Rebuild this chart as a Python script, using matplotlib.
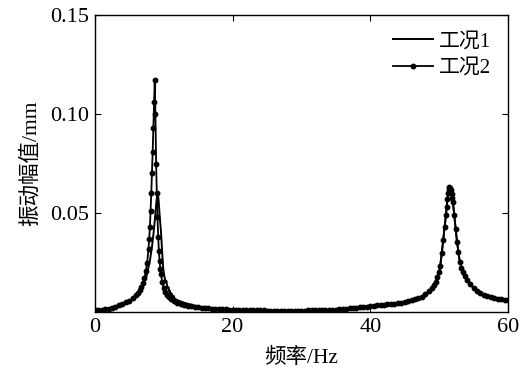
import numpy as np
import matplotlib
matplotlib.use("Agg")
import matplotlib.pyplot as plt

plt.rcParams['font.family'] = ['Liberation Serif', 'Noto Sans CJK SC']

# 工况2 (ligne avec points)
freq2 = [0.0, 0.5, 1.0, 1.5, 2.0, 2.5, 3.0, 3.5, 4.0, 4.5, 5.0, 5.5, 6.0, 6.25, 6.5, 6.75,
         7.0, 7.2, 7.4, 7.6, 7.8, 7.9, 8.0, 8.1, 8.2, 8.3, 8.4, 8.5, 8.6, 8.7, 8.8, 8.9,
         9.0, 9.1, 9.2, 9.3, 9.4, 9.5, 9.6, 9.8, 10.0, 10.25, 10.5, 10.75, 11.0, 11.5,
         12.0, 12.5, 13.0, 13.5, 14.0, 14.5, 15.0, 15.5, 16.0, 16.5, 17.0, 17.5, 18.0,
         18.5, 19.0, 19.5, 20.0, 20.5, 21.0, 21.5, 22.0, 22.5, 23.0, 23.5, 24.0, 24.5,
         25.0, 25.5, 26.0, 26.5, 27.0, 27.5, 28.0, 28.5, 29.0, 29.5, 30.0, 30.5, 31.0,
         31.5, 32.0, 32.5, 33.0, 33.5, 34.0, 34.5, 35.0, 35.5, 36.0, 36.5, 37.0, 37.5,
         38.0, 38.5, 39.0, 39.5, 40.0, 40.5, 41.0, 41.5, 42.0, 42.5, 43.0, 43.5, 44.0,
         44.5, 45.0, 45.5, 46.0, 46.5, 47.0, 47.5, 48.0, 48.5, 49.0, 49.25, 49.5, 49.75,
         50.0, 50.2, 50.4, 50.6, 50.8, 51.0, 51.1, 51.2, 51.3, 51.4, 51.5, 51.6, 51.7,
         51.8, 51.9, 52.0, 52.2, 52.4, 52.6, 52.8, 53.0, 53.25, 53.5, 53.75, 54.0, 54.5,
         55.0, 55.5, 56.0, 56.5, 57.0, 57.5, 58.0, 58.5, 59.0, 59.5, 60.0]
amp2 = [0.0012, 0.0010, 0.0011, 0.0014, 0.0018, 0.0023, 0.0028, 0.0034, 0.0041, 0.0049,
        0.0058, 0.0070, 0.0085, 0.0096, 0.0110, 0.0128,
        0.0148, 0.0170, 0.0205, 0.0250, 0.0320, 0.0370, 0.0430, 0.0510, 0.0600, 0.0700,
        0.0810, 0.0930, 0.1060, 0.1170, 0.1000, 0.0750,
        0.0600, 0.0480, 0.0380, 0.0310, 0.0260, 0.0220, 0.0190, 0.0150, 0.0122, 0.0100,
        0.0085, 0.0074, 0.0066, 0.0055,
        0.0047, 0.0041, 0.0036, 0.0032, 0.0029, 0.0026, 0.0024, 0.0022, 0.0020, 0.0019,
        0.0018, 0.0017, 0.0016,
        0.0015, 0.0014, 0.0013, 0.0012, 0.0011, 0.0010, 0.0010, 0.0009, 0.0009, 0.0008,
        0.0008, 0.0008, 0.0008,
        0.0007, 0.0007, 0.0007, 0.0007, 0.0007, 0.0007, 0.0007, 0.0007, 0.0007, 0.0007,
        0.0007, 0.0007, 0.0008,
        0.0008, 0.0008, 0.0009, 0.0009, 0.0010, 0.0010, 0.0011, 0.0013, 0.0014, 0.0015,
        0.0017, 0.0019, 0.0020,
        0.0022, 0.0024, 0.0026, 0.0028, 0.0030, 0.0032, 0.0034, 0.0036, 0.0038, 0.0040,
        0.0041, 0.0043, 0.0045,
        0.0048, 0.0052, 0.0056, 0.0060, 0.0065, 0.0070, 0.0078, 0.0090, 0.0105, 0.0122,
        0.0135, 0.0152, 0.0175,
        0.0200, 0.0235, 0.0300, 0.0365, 0.0430, 0.0490, 0.0530, 0.0570, 0.0600, 0.0622,
        0.0633, 0.0628, 0.0615,
        0.0598, 0.0578, 0.0555, 0.0490, 0.0420, 0.0355, 0.0305, 0.0255, 0.0225, 0.0200,
        0.0180, 0.0162, 0.0140,
        0.0122, 0.0108, 0.0097, 0.0088, 0.0081, 0.0076, 0.0071, 0.0067, 0.0064, 0.0061,
        0.0059]

# 工况1 (ligne continue)
freq1 = [0.0, 1.0, 2.0, 3.0, 4.0, 5.0, 6.0, 6.5, 7.0, 7.5, 8.0, 8.3, 8.5, 8.7, 8.9,
         9.05, 9.15, 9.25, 9.35, 9.45, 9.6, 9.7, 9.8, 9.9, 10.0, 10.1, 10.2, 10.3, 10.4,
         10.5, 10.6, 10.7, 10.8, 10.9, 11.0, 11.15, 11.3, 11.45, 11.6, 11.8, 12.0, 12.5,
         13.0, 13.5, 14.0, 15.0, 16.0, 17.0, 18.0, 20.0, 22.0, 24.0, 26.0, 28.0, 30.0,
         32.0, 34.0, 36.0, 38.0, 40.0, 42.0, 44.0, 46.0, 47.0, 48.0, 49.0, 49.5, 50.0,
         50.4, 50.8, 51.0, 51.2, 51.4, 51.5, 51.6, 51.8, 52.0, 52.2, 52.4, 52.6, 52.8,
         53.0, 53.5, 54.0, 55.0, 56.0, 57.0, 58.0, 59.0, 60.0]
amp1 = [0.0012, 0.0011, 0.0017, 0.0027, 0.0039, 0.0055, 0.0080, 0.0100, 0.0130, 0.0180,
        0.0260, 0.0330, 0.0390, 0.0460, 0.0540,
        0.0590, 0.0600, 0.0570, 0.0520, 0.0470, 0.0410, 0.0350, 0.0290, 0.0235, 0.0200,
        0.0180, 0.0165, 0.0150, 0.0158,
        0.0128, 0.0120, 0.0126, 0.0102, 0.0108, 0.0090, 0.0094, 0.0078, 0.0082, 0.0068,
        0.0064, 0.0060, 0.0053,
        0.0047, 0.0042, 0.0037, 0.0028, 0.0023, 0.0020, 0.0017, 0.0013, 0.0010, 0.0008,
        0.0007, 0.0007, 0.0007,
        0.0008, 0.0010, 0.0015, 0.0022, 0.0030, 0.0038, 0.0045, 0.0060, 0.0070, 0.0090,
        0.0122, 0.0152, 0.0200,
        0.0300, 0.0430, 0.0490, 0.0570, 0.0622, 0.0633, 0.0628, 0.0598, 0.0555,
        0.0490, 0.0420, 0.0355, 0.0305,
        0.0255, 0.0200, 0.0162, 0.0122, 0.0097, 0.0081, 0.0071, 0.0064, 0.0059]

xticks = [0, 20, 40, 60]
yticks = [0.05, 0.10, 0.15]
ytick_labels = ['0.05', '0.10', '0.15']

fig = plt.figure(figsize=(5.21, 3.76), dpi=100)
ax = fig.add_axes([0.182, 0.170, 0.793, 0.790])

ax.plot(freq1, amp1, color='black', linewidth=1.4, label='工况1')
ax.plot(freq2, amp2, color='black', linewidth=1.3, marker='o', markersize=3.2,
        label='工况2')

ax.set_xlim(0, 60)
ax.set_ylim(0, 0.15)
ax.set_xticks(xticks)
ax.set_yticks(yticks)
ax.set_yticklabels(ytick_labels)
ax.tick_params(direction='in', length=4, width=0.8, labelsize=16,
               top=True, right=True, pad=4)
for s in ax.spines.values():
    s.set_linewidth(1.0)

ax.set_xlabel('频率/Hz', fontsize=15.5, labelpad=8)
ax.set_ylabel('振动幅值/mm', fontsize=15.5, labelpad=7)

ax.legend(loc='upper right', frameon=False, fontsize=15, handlelength=1.9,
          numpoints=1, borderaxespad=0.2, handletextpad=0.3,
          labelspacing=0.35, borderpad=0.6)

fig.savefig('out.png', dpi=100)
